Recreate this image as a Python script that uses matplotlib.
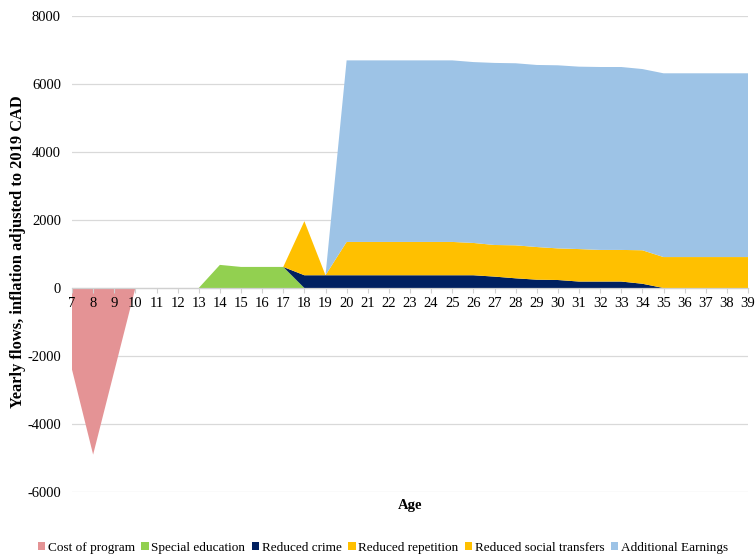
import numpy as np
import matplotlib
matplotlib.use("Agg")
import matplotlib.pyplot as plt

# dati (età 7-39)
ages = list(range(7, 40))

cost_program = [-2400, -4900, -2450, 0] + [0] * 29
special_education = [0] * 7 + [680, 620, 620, 620] + [0] * 22
reduced_crime = ([0] * 11 + [375, 375] + [375] * 7
                 + [335, 285, 245, 235, 190, 190, 190, 125] + [0] * 5)
reduced_repetition = [0] * 11 + [1590] + [0] * 21
reduced_social = ([0] * 13 + [980] * 6
                  + [950, 930, 970, 960, 930, 955, 930, 930, 985] + [910] * 5)
additional_earnings = ([0] * 13 + [5340] * 6
                       + [5320, 5355, 5355, 5355, 5385, 5365, 5380, 5380, 5330] + [5405] * 5)

labels = ["Cost of program", "Special education", "Reduced crime",
          "Reduced repetition", "Reduced social transfers", "Additional Earnings"]
colors = ["#E49395", "#92D050", "#002060", "#FFC000", "#FFC000", "#9DC3E6"]

plt.rcParams['font.family'] = ['Liberation Serif', 'DejaVu Serif']
plt.rcParams['axes.unicode_minus'] = False

fig = plt.figure(figsize=(7.56, 5.59), dpi=100)
ax = fig.add_axes([72 / 756, 1 - 492 / 559, 676 / 756, 476 / 559])

yticks = np.arange(-6000, 8001, 2000)
# griglia sotto le aree, etichette sopra
for y in yticks:
    ax.axhline(y, color='#D9D9D9', linewidth=0.9, zorder=0)

series = [cost_program, special_education, reduced_crime,
          reduced_repetition, reduced_social, additional_earnings]
polys = ax.stackplot(ages, *series, colors=colors, labels=labels, linewidth=0)

ax.set_xlim(7, 39)
ax.set_ylim(-6000, 8000)
ax.set_yticks(yticks)
ax.set_xticks(ages)

for s in ['top', 'right', 'left']:
    ax.spines[s].set_visible(False)
ax.spines['bottom'].set_position(('data', 0))
ax.spines['bottom'].set_color('#D0D0D0')
ax.spines['bottom'].set_linewidth(0.9)

ax.tick_params(axis='y', length=0, pad=8, labelsize=10.5)
ax.tick_params(axis='x', length=3.5, width=0.8, color='#D0D0D0', pad=3, labelsize=10.5)

fig.text(18 / 756, 1 - 252 / 559, "Yearly flows, inflation adjusted to 2019 CAD",
         rotation=90, ha='center', va='center', fontsize=11.8, fontweight='bold')
fig.text(410 / 756, 1 - 505 / 559, "Age", ha='center', va='center',
         fontsize=10.5, fontweight='bold')

fig.legend(handles=polys, labels=labels, loc='center', ncol=6,
           bbox_to_anchor=(383 / 756, 1 - 548 / 559), frameon=False,
           fontsize=9.5, handlelength=0.55, handleheight=0.55,
           handletextpad=0.2, columnspacing=0.5, borderpad=0)

fig.savefig("out.png", dpi=100)
